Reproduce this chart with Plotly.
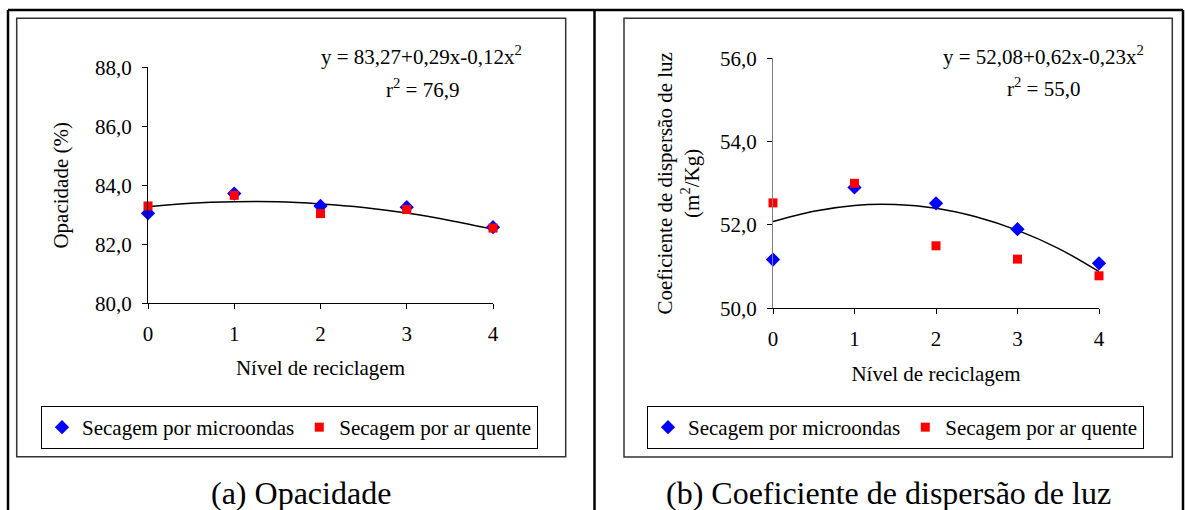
import plotly.graph_objects as go

W, H = 1185, 510

# ---------------- data ----------------
levels = [0, 1, 2, 3, 4]

# (a) Opacidade (%)
opac_micro = [83.05, 83.72, 83.30, 83.26, 82.58]
opac_ar = [83.30, 83.66, 83.04, 83.18, 82.55]
opac_trend_x = [0, 0.5, 1, 1.5, 2, 2.5, 3, 3.5, 4]
opac_trend_y = [83.27, 83.39, 83.44, 83.44, 83.37, 83.25, 83.06, 82.81, 82.51]
opac_eq = "y = 83,27+0,29x-0,12x<sup>2</sup>"
opac_r2 = "r<sup>2</sup> = 76,9"

# (b) Coeficiente de dispersão de luz (m2/Kg)
disp_micro = [51.17, 52.90, 52.52, 51.90, 51.08]
disp_ar = [52.53, 53.00, 51.50, 51.18, 50.78]
disp_trend_x = [0, 0.5, 1, 1.5, 2, 2.5, 3, 3.5, 4]
disp_trend_y = [52.08, 52.33, 52.47, 52.49, 52.40, 52.19, 51.87, 51.44, 50.88]
disp_eq = "y = 52,08+0,62x-0,23x<sup>2</sup>"
disp_r2 = "r<sup>2</sup> = 55,0"

x_ticks = [0, 1, 2, 3, 4]
opac_ticks = [80, 82, 84, 86, 88]
disp_ticks = [50, 52, 54, 56]

series_names = ["Secagem por microondas", "Secagem por ar quente"]
x_title = "Nível de reciclagem"
opac_title = "Opacidade (%)"
disp_title = "Coeficiente de dispersão de luz<br>(m<sup>2</sup>/Kg)"
sub_a = "(a) Opacidade"
sub_b = "(b) Coeficiente de dispersão de luz"

FONT = "Liberation Serif"
BLUE = "#0000FF"
RED = "#FF0000"


def px(x):
    return x / W


def py(y):
    return 1 - y / H


fig = go.Figure()

# left panel
fig.add_trace(go.Scatter(x=opac_trend_x, y=opac_trend_y, mode="lines", line=dict(color="black", width=1.5, shape="spline"),
                         showlegend=False, xaxis="x", yaxis="y", hoverinfo="skip"))
fig.add_trace(go.Scatter(x=levels, y=opac_micro, mode="markers", name=series_names[0],
                         marker=dict(symbol="diamond", size=11, color=BLUE), cliponaxis=False,
                         xaxis="x", yaxis="y", legend="legend"))
fig.add_trace(go.Scatter(x=levels, y=opac_ar, mode="markers", name=series_names[1],
                         marker=dict(symbol="square", size=9, color=RED), cliponaxis=False,
                         xaxis="x", yaxis="y", legend="legend"))

# right panel
fig.add_trace(go.Scatter(x=disp_trend_x, y=disp_trend_y, mode="lines", line=dict(color="black", width=1.5, shape="spline"),
                         showlegend=False, xaxis="x2", yaxis="y2", hoverinfo="skip"))
fig.add_trace(go.Scatter(x=levels, y=disp_micro, mode="markers", name=series_names[0],
                         marker=dict(symbol="diamond", size=11, color=BLUE), cliponaxis=False,
                         xaxis="x2", yaxis="y2", legend="legend2"))
fig.add_trace(go.Scatter(x=levels, y=disp_ar, mode="markers", name=series_names[1],
                         marker=dict(symbol="square", size=9, color=RED), cliponaxis=False,
                         xaxis="x2", yaxis="y2", legend="legend2"))

axis_common = dict(showgrid=False, zeroline=False, showline=True, linewidth=1,
                   ticks="outside", ticklen=5, tickwidth=1, tickcolor="black", automargin=False,
                   tickfont=dict(family=FONT, size=21, color="black"), fixedrange=True)
title_font = dict(family=FONT, size=21, color="black")

fig.update_layout(
    width=W, height=H, autosize=False,
    margin=dict(l=0, r=0, t=0, b=0, pad=0),
    paper_bgcolor="white", plot_bgcolor="white",
    separators=",.",
    font=dict(family=FONT, size=21, color="black"),
    xaxis=dict(domain=[px(148), px(493)], range=[0, 4], tickvals=x_ticks, linecolor="black",
               anchor="y", ticklabelstandoff=6,
               title=dict(text=x_title, font=title_font, standoff=15), **axis_common),
    yaxis=dict(domain=[py(303.3), py(67.3)], range=[80, 88], tickvals=opac_ticks, tickformat=".1f",
               linecolor="black", anchor="x", ticklabelstandoff=6,
               title=dict(text=opac_title, font=title_font, standoff=20), **axis_common),
    xaxis2=dict(domain=[px(773), px(1099)], range=[0, 4], tickvals=x_ticks, linecolor="black",
                anchor="y2", ticklabelstandoff=6,
                title=dict(text=x_title, font=title_font, standoff=16), **axis_common),
    yaxis2=dict(domain=[py(308.3), py(58.3)], range=[50, 56], tickvals=disp_ticks, tickformat=".1f",
                linecolor="#808080", anchor="x2", ticklabelstandoff=6,
                title=dict(text=disp_title, font=title_font, standoff=14), **axis_common),
    legend=dict(x=px(41), y=py(427.5), xanchor="left", yanchor="middle", orientation="h",
                bordercolor="black", borderwidth=1, bgcolor="white",
                font=dict(family=FONT, size=21, color="black"), itemclick=False, itemdoubleclick=False),
    legend2=dict(x=px(647), y=py(427.5), xanchor="left", yanchor="middle", orientation="h",
                 bordercolor="black", borderwidth=1, bgcolor="white",
                 font=dict(family=FONT, size=21, color="black"), itemclick=False, itemdoubleclick=False),
)

shapes = [
    # outer frame (top, left, right) and divider
    dict(type="line", xref="paper", yref="paper", x0=px(8), x1=px(1183), y0=py(10), y1=py(10), line=dict(color="black", width=2.5)),
    dict(type="line", xref="paper", yref="paper", x0=px(8), x1=px(8), y0=py(10), y1=py(512), line=dict(color="black", width=2.5)),
    dict(type="line", xref="paper", yref="paper", x0=px(1183), x1=px(1183), y0=py(10), y1=py(512), line=dict(color="black", width=2.5)),
    dict(type="line", xref="paper", yref="paper", x0=px(594.5), x1=px(594.5), y0=py(10), y1=py(512), line=dict(color="black", width=2.5)),
    # inner chart boxes
    dict(type="rect", xref="paper", yref="paper", x0=px(16.7), x1=px(565.7), y0=py(456.7), y1=py(18.3), line=dict(color="#333333", width=1.5)),
    dict(type="rect", xref="paper", yref="paper", x0=px(624), x1=px(1172.3), y0=py(457), y1=py(18.3), line=dict(color="#333333", width=1.5)),
]
fig.update_layout(shapes=shapes)

ann = []


def add_text(text, x, y, size=21):
    ann.append(dict(text=text, x=px(x), y=py(y), xref="paper", yref="paper", showarrow=False,
                    xanchor="center", yanchor="middle",
                    font=dict(family=FONT, size=size, color="black")))


add_text(opac_eq, 421, 55)
add_text(opac_r2, 422, 88)
add_text(disp_eq, 1043, 55)
add_text(disp_r2, 1043, 87)
add_text(sub_a, 301, 493, size=32)
add_text(sub_b, 888.5, 493, size=32)
fig.update_layout(annotations=ann)

fig.write_html("out.html", config={"displayModeBar": False, "staticPlot": False},
               post_script="document.body.style.margin='0px';document.body.style.overflow='hidden';")
